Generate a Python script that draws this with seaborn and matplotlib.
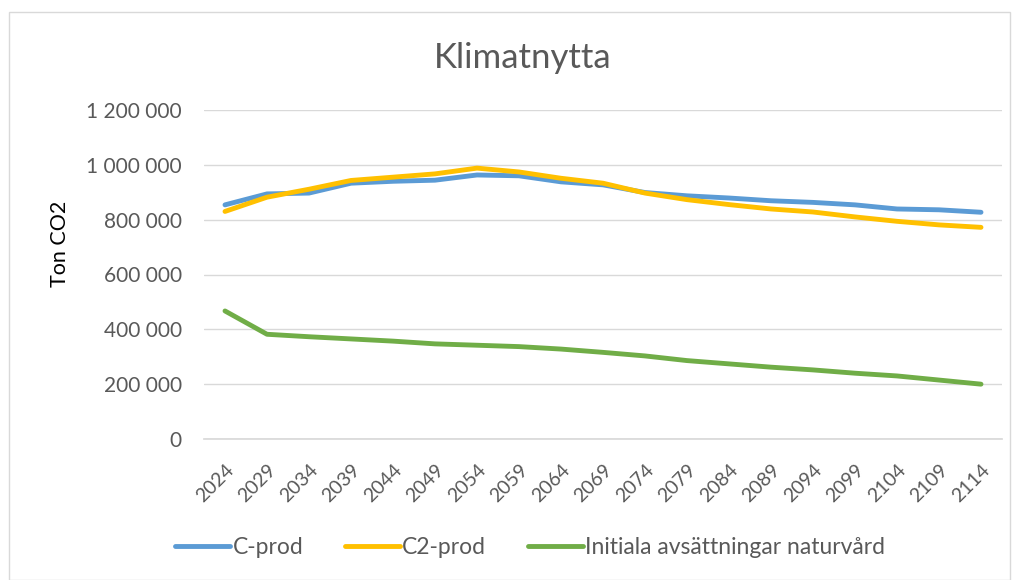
import matplotlib
matplotlib.use("Agg")
import matplotlib.pyplot as plt
import matplotlib.ticker as mticker
from matplotlib.patches import Rectangle
from matplotlib.lines import Line2D
import seaborn as sns
import pandas as pd

years = [2024, 2029, 2034, 2039, 2044, 2049, 2054, 2059, 2064, 2069,
         2074, 2079, 2084, 2089, 2094, 2099, 2104, 2109, 2114]
c_prod = [854000, 894000, 897000, 933000, 940000, 944000, 963000, 960000, 938000, 927000,
          899000, 887000, 879000, 869000, 863000, 854000, 839000, 836000, 827000]
c2_prod = [830000, 882000, 911000, 943000, 955000, 967000, 988000, 974000, 951000, 933000,
           897000, 873000, 855000, 839000, 828000, 810000, 794000, 781000, 772000]
initiala = [467000, 382000, 373000, 365000, 357000, 347000, 342000, 337000, 328000, 316000,
            303000, 286000, 274000, 262000, 252000, 240000, 230000, 215000, 200000]
series_names = ["C-prod", "C2-prod", "Initiala avsättningar naturvård"]
colors = ["#5B9BD5", "#FFC000", "#70AD47"]

rows = []
for name, vals in zip(series_names, [c_prod, c2_prod, initiala]):
    for i, (yr, v) in enumerate(zip(years, vals)):
        rows.append({"idx": i, "year": yr, "value": v, "series": name})
df = pd.DataFrame(rows)

sns.set_theme(style="white")
plt.rcParams['font.family'] = ['Lato', 'DejaVu Sans']

fig = plt.figure(figsize=(10.18, 5.8), dpi=100)
ax = fig.add_axes([204/1018, 1-439/580, 798/1018, 329/580])

sns.lineplot(data=df, x="idx", y="value", hue="series", hue_order=series_names,
             palette=colors, linewidth=3.5, ax=ax, legend=False,
             solid_capstyle="round", solid_joinstyle="round")

ax.set_xlim(-0.5, len(years) - 0.5)
ax.set_ylim(0, 1200000)
ax.set_yticks(range(0, 1200001, 200000))
ax.yaxis.set_major_formatter(mticker.FuncFormatter(lambda v, p: f"{int(v):,}".replace(",", " ")))
ax.set_xticks(range(len(years)))
ax.set_xticklabels([str(y) for y in years], rotation=45, ha="right", rotation_mode="anchor")
ax.grid(axis="y", color="#D9D9D9", linewidth=1.0)
ax.set_axisbelow(True)
for s in ["top", "right", "left"]:
    ax.spines[s].set_visible(False)
ax.spines["bottom"].set_color("#D9D9D9")
ax.tick_params(axis="y", colors="#595959", labelsize=15, length=0, pad=16)
ax.tick_params(axis="x", colors="#595959", labelsize=14, length=0, pad=16)
ax.set_xlabel("")
ax.set_ylabel("")

fig.text(60/1018, 1-244/580, "Ton CO2", rotation=90, ha="center", va="center",
         fontsize=15.5, color="black")

fig.text(523/1018, 1-68/580, "Klimatnytta", ha="center", va="baseline",
         fontsize=25, color="#595959")

handles = [Line2D([0], [0], color=c, lw=3.5, solid_capstyle="round") for c in colors]
fig.legend(handles, series_names, loc="center", bbox_to_anchor=(530/1018, 1-548/580), ncol=3,
           frameon=False, handlelength=2.4, handletextpad=0.12, columnspacing=1.8,
           labelcolor="#595959", prop={"size": 16.5})

fig.patches.append(Rectangle((9/1018, 0.0), 1001/1018, 1-12/580, transform=fig.transFigure,
                             fill=False, edgecolor="#D9D9D9", linewidth=1.0))

fig.savefig("out.png", dpi=100, facecolor="white")
